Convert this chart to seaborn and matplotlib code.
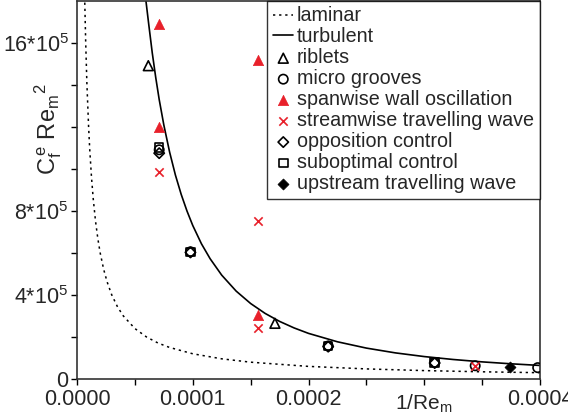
import matplotlib
matplotlib.use('Agg')
import matplotlib.pyplot as plt
import seaborn as sns

# curves
lam_x = [6.7e-6, 7.5e-6, 8.5e-6, 1e-5, 1.1e-5, 1.25e-5, 1.4e-5, 1.6e-5, 1.8e-5, 2e-5, 2.3e-5,
         2.6e-5, 3e-5, 3.5e-5, 4e-5, 5e-5, 6e-5, 7e-5, 8e-5, 1e-4, 1.25e-4, 1.5e-4, 2e-4,
         2.5e-4, 3e-4, 3.5e-4, 4e-4]
lam_y = [17.9e5, 16.0e5, 14.1e5, 12.0e5, 10.9e5, 9.6e5, 8.57e5, 7.5e5, 6.67e5, 6.0e5, 5.22e5,
         4.62e5, 4.0e5, 3.43e5, 3.0e5, 2.4e5, 2.0e5, 1.71e5, 1.5e5, 1.2e5, 0.96e5, 0.8e5, 0.6e5,
         0.48e5, 0.4e5, 0.343e5, 0.3e5]
turb_x = [5.95e-5, 6.2e-5, 6.5e-5, 6.8e-5, 7.1e-5, 7.5e-5, 8e-5, 8.5e-5, 9e-5, 9.5e-5, 1e-4,
          1.075e-4, 1.15e-4, 1.25e-4, 1.375e-4, 1.5e-4, 1.625e-4, 1.75e-4, 1.875e-4, 2e-4,
          2.25e-4, 2.5e-4, 2.75e-4, 3e-4, 3.25e-4, 3.5e-4, 3.75e-4, 4e-4]
turb_y = [18.0e5, 16.85e5, 15.51e5, 14.34e5, 13.29e5, 12.08e5, 10.79e5, 9.70e5, 8.78e5, 7.99e5,
          7.3e5, 6.43e5, 5.72e5, 4.94e5, 4.18e5, 3.59e5, 3.12e5, 2.74e5, 2.43e5, 2.17e5,
          1.77e5, 1.47e5, 1.243e5, 1.067e5, 0.928e5, 0.815e5, 0.723e5, 0.645e5]

# data points
riblets_x = [6.16e-5, 1.71e-4]
riblets_y = [14.9e5, 2.65e5]
grooves_x = [7.1e-5, 0.98e-4, 2.17e-4, 3.09e-4, 3.44e-4, 3.98e-4]
grooves_y = [10.9e5, 6.05e5, 1.57e5, 0.78e5, 0.63e5, 0.54e5]
spanwise_x = [7.1e-5, 1.566e-4, 7.1e-5, 1.566e-4]
spanwise_y = [16.9e5, 15.15e5, 12.0e5, 3.04e5]
stream_x = [7.1e-5, 1.566e-4, 1.566e-4, 3.44e-4]
stream_y = [9.85e5, 7.5e5, 2.41e5, 0.63e5]
opp_x = [7.1e-5, 0.98e-4, 2.17e-4, 3.09e-4]
opp_y = [10.74e5, 6.02e5, 1.54e5, 0.76e5]
subopt_x = [7.1e-5, 0.98e-4, 2.17e-4, 3.09e-4]
subopt_y = [11.0e5, 6.05e5, 1.58e5, 0.79e5]
upstream_x = [3.74e-4]
upstream_y = [0.585e5]

xticks = [0.0, 0.0001, 0.0002, 0.0003, 0.0004]
xticklabels = ['0.0000', '0.0001', '0.0002', '', '0.0004']
yticks = [0, 4e5, 8e5, 12e5, 16e5]
yticklabels = ['0', '4*10$^5$', '8*10$^5$', '', '16*10$^5$']

sns.set_style('ticks')
plt.rcParams['font.family'] = ['Liberation Sans', 'DejaVu Sans']
plt.rcParams['mathtext.fontset'] = 'custom'
plt.rcParams['mathtext.rm'] = 'Liberation Sans'
plt.rcParams['mathtext.it'] = 'Liberation Sans'

red = '#e8202a'

fig = plt.figure(figsize=(5.68, 4.2), dpi=100)
ax = fig.add_axes([0.1356, 0.0976, 0.8151, 0.9012])

sns.lineplot(x=lam_x, y=lam_y, ax=ax, color='black', linestyle=(0, (1.5, 2.5)), linewidth=1.1,
             label='laminar', sort=False)
sns.lineplot(x=turb_x, y=turb_y, ax=ax, color='black', linewidth=1.2, label='turbulent', sort=False)

sns.scatterplot(x=riblets_x, y=riblets_y, ax=ax, marker='^', s=50, facecolor='none',
                edgecolor='black', linewidth=1.2, label='riblets', zorder=3)
sns.scatterplot(x=grooves_x, y=grooves_y, ax=ax, marker='o', s=45, facecolor='none',
                edgecolor='black', linewidth=1.2, label='micro grooves', zorder=3)
sns.scatterplot(x=spanwise_x, y=spanwise_y, ax=ax, marker='^', s=55, color=red,
                edgecolor=red, linewidth=0.5, label='spanwise wall oscillation', zorder=3)
sns.scatterplot(x=stream_x, y=stream_y, ax=ax, marker='x', s=36, color=red,
                linewidth=1.2, label='streamwise travelling wave', zorder=4)
sns.scatterplot(x=opp_x, y=opp_y, ax=ax, marker='D', s=28, facecolor='none',
                edgecolor='black', linewidth=1.2, label='opposition control', zorder=3)
sns.scatterplot(x=subopt_x, y=subopt_y, ax=ax, marker='s', s=38, facecolor='none',
                edgecolor='black', linewidth=1.2, label='suboptimal control', zorder=3)
sns.scatterplot(x=upstream_x, y=upstream_y, ax=ax, marker='D', s=32, color='black',
                edgecolor='black', label='upstream travelling wave', zorder=3)

ax.set_xlim(0, 0.0004)
ax.set_ylim(0, 18e5)
ax.set_xticks(xticks)
ax.set_xticklabels(xticklabels, fontsize=15.5)
ax.set_xticks([0.00005, 0.00015, 0.00025, 0.00035], minor=True)
ax.set_yticks(yticks)
ax.set_yticklabels(yticklabels, fontsize=15.5)
ax.set_yticks([2e5, 6e5, 10e5, 14e5], minor=True)
ax.tick_params(which='both', direction='out', length=4, width=1, color='black',
               top=False, right=False, pad=2)
ax.tick_params(axis='x', which='both', pad=3.5)
for s in ax.spines.values():
    s.set_visible(True)
    s.set_color('#333333')
    s.set_linewidth(1.2)

ax.set_xlabel('1/Re$_\\mathrm{m}$', fontsize=15)
ax.xaxis.set_label_coords(0.75, -0.035)
ax.set_ylabel('$\\mathrm{C_f^{\\,e}\\ Re_m{}^2}$', fontsize=17)
ax.yaxis.set_label_coords(-0.028, 0.66)

leg = ax.legend(loc='upper right', bbox_to_anchor=(1.0, 1.0), borderaxespad=0,
                fontsize=14.2, frameon=True, fancybox=False, handlelength=1.0,
                handletextpad=0.2, labelspacing=0.1, borderpad=0.3)
leg.get_frame().set_edgecolor('black')
leg.get_frame().set_linewidth(1.0)

fig.savefig('out.png', dpi=100)
